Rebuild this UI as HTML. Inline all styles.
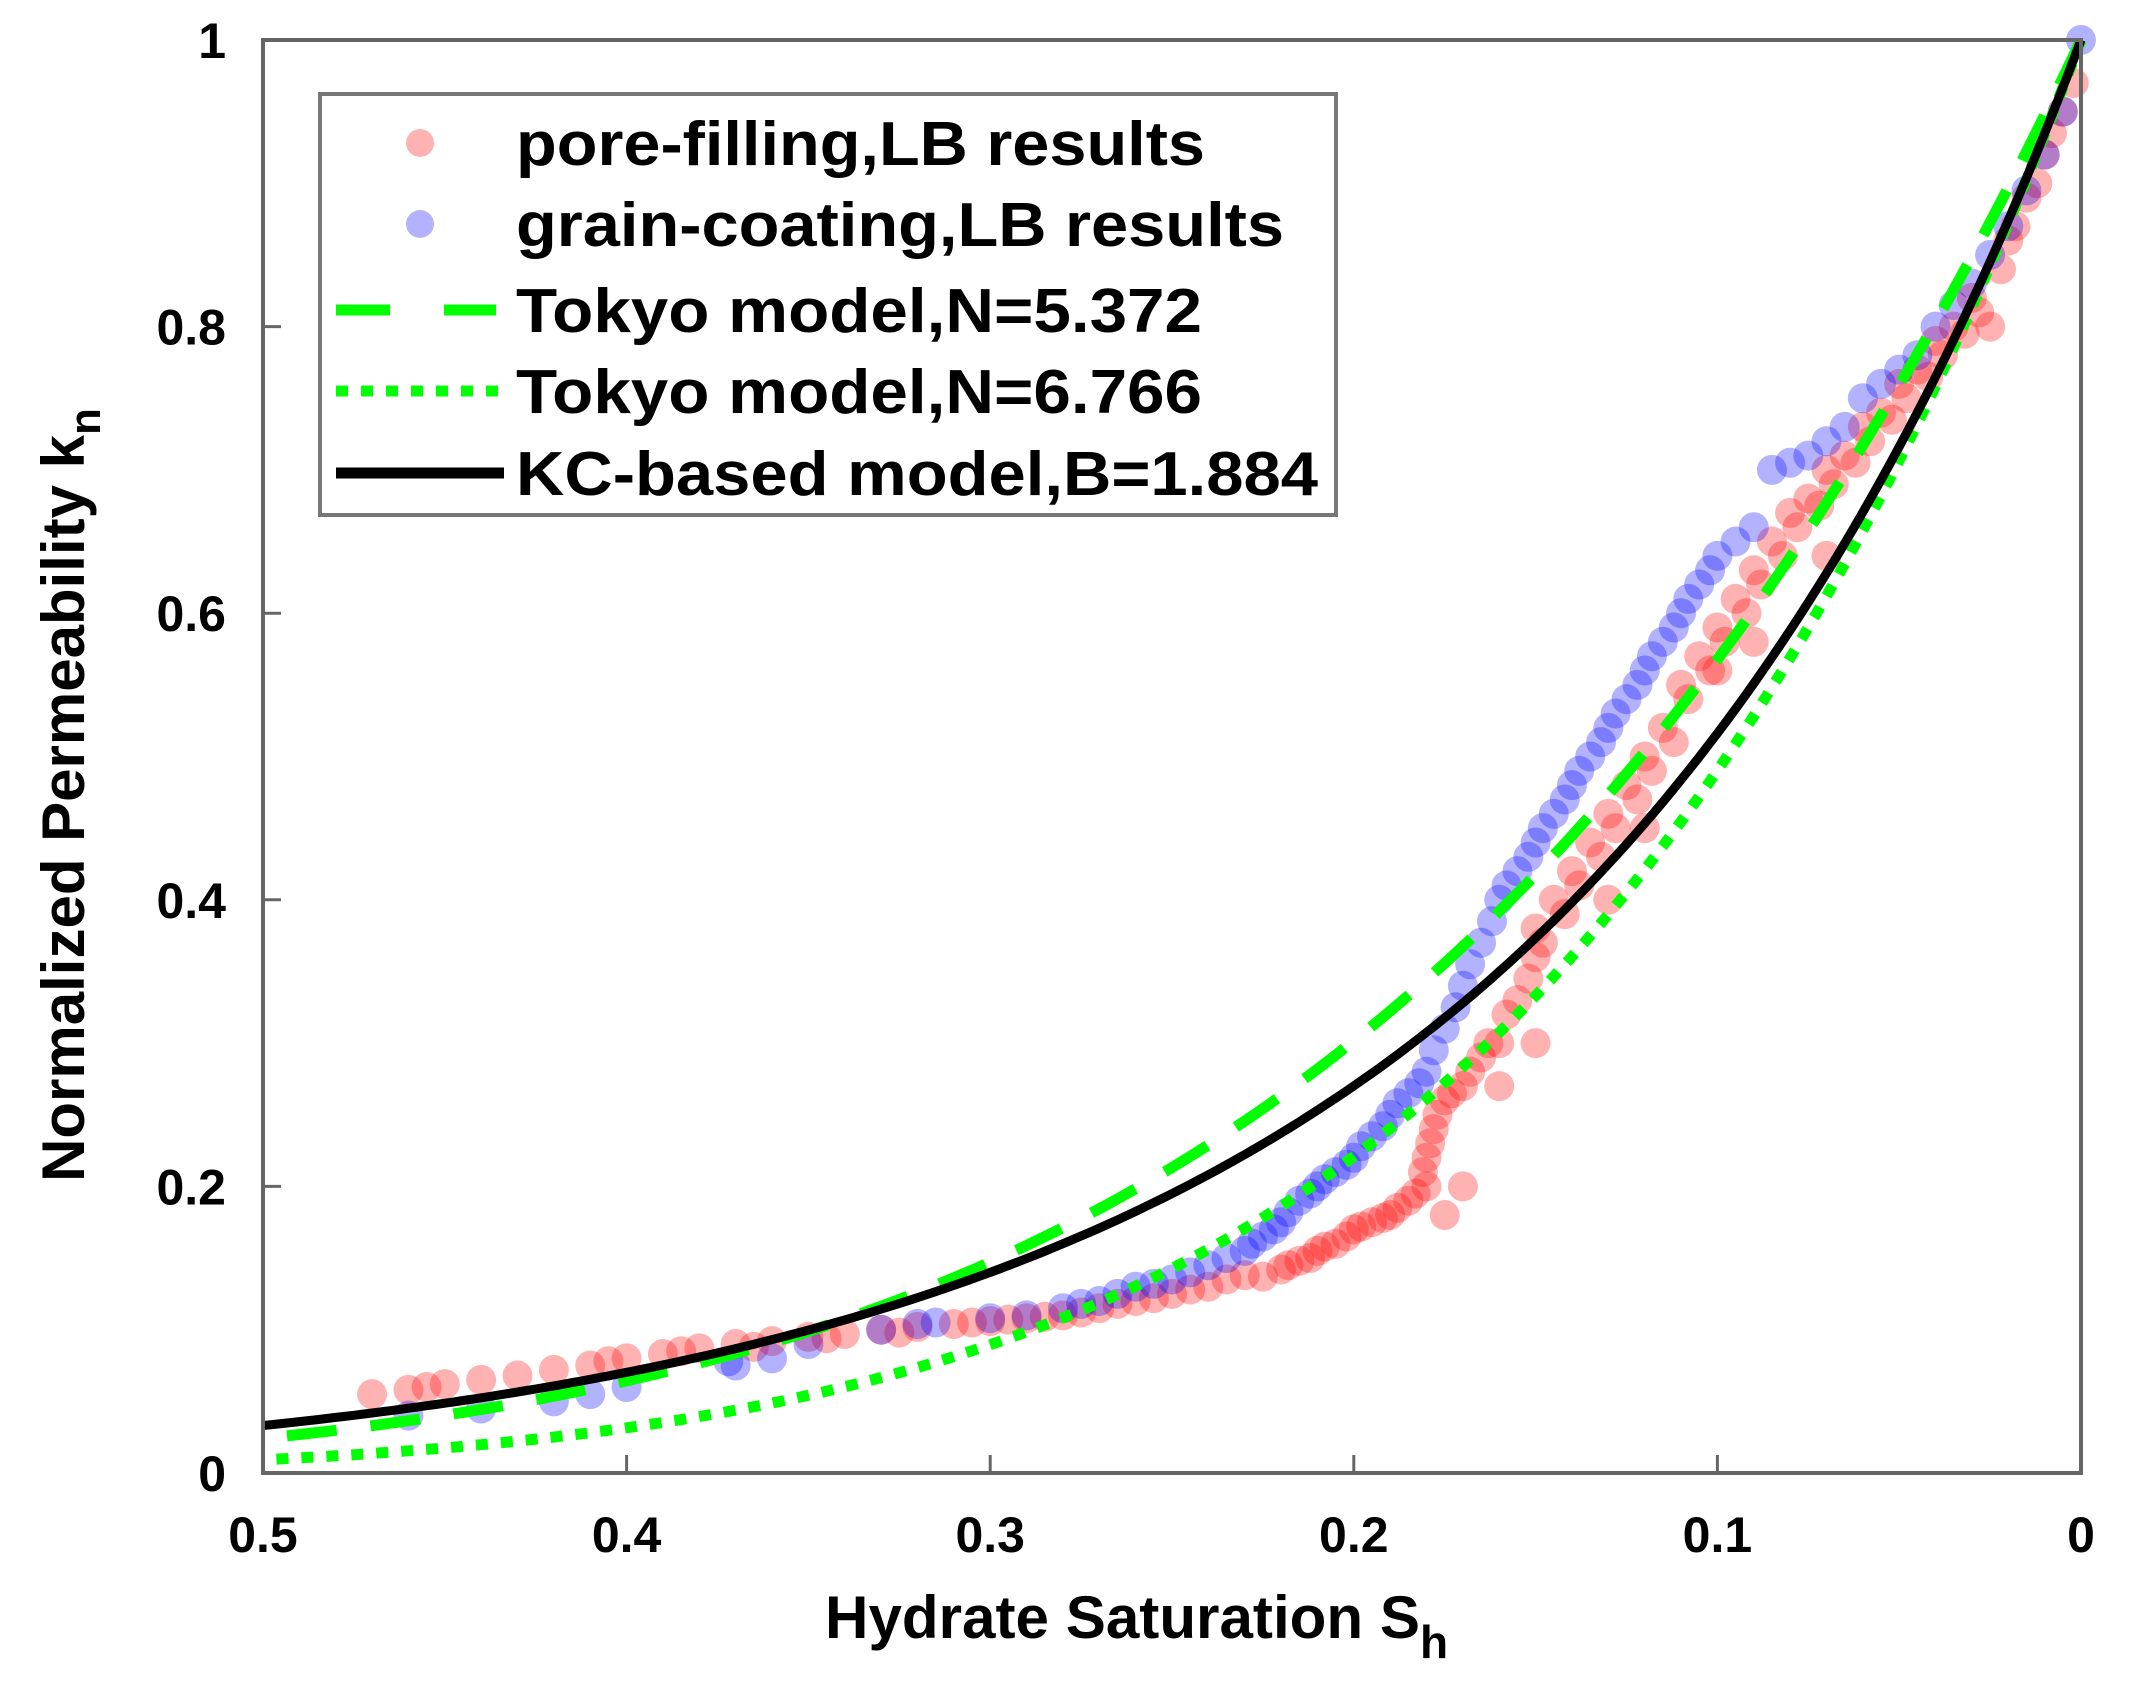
<!DOCTYPE html>
<html><head><meta charset="utf-8"><style>
html,body{margin:0;padding:0;background:#fff;}
svg{display:block;font-family:"Liberation Sans",Arial,sans-serif;}
</style></head><body>
<svg id="chart" width="2131" height="1691" viewBox="0 0 2131 1691" xmlns="http://www.w3.org/2000/svg">
<rect x="0" y="0" width="2131" height="1691" fill="#fff"/>
<g id="marks"></g>
<rect x="263" y="40" width="1818" height="1433" fill="none" stroke="#666" stroke-width="4"/>
<g id="ticks"></g>
<text x="0" y="0" transform="translate(84,795) rotate(-90)" text-anchor="middle" font-size="60" font-weight="bold">Normalized Permeability k<tspan font-size="44" dy="16">n</tspan></text>
<text x="825" y="1638" font-size="60" font-weight="bold"><tspan textLength="595" lengthAdjust="spacingAndGlyphs">Hydrate Saturation S</tspan><tspan font-size="46" dy="20">h</tspan></text>
<g>
<rect x="320" y="94" width="1016" height="421" fill="#fff" stroke="#777" stroke-width="4"/>
<circle cx="420" cy="143" r="14" fill="rgba(255,0,0,0.3)"/>
<text x="516" y="165" font-size="62" font-weight="bold" textLength="689" lengthAdjust="spacingAndGlyphs">pore-filling,LB results</text>
<circle cx="420" cy="224" r="14" fill="rgba(0,0,255,0.3)"/>
<text x="516" y="246" font-size="62" font-weight="bold" textLength="768" lengthAdjust="spacingAndGlyphs">grain-coating,LB results</text>
<line x1="336" y1="310" x2="496" y2="310" stroke="#00ff00" stroke-width="11" stroke-dasharray="54,54"/>
<text x="516" y="332" font-size="62" font-weight="bold" textLength="686" lengthAdjust="spacingAndGlyphs">Tokyo model,N=5.372</text>
<line x1="336" y1="391" x2="504" y2="391" stroke="#00ff00" stroke-width="11" stroke-dasharray="12,13"/>
<text x="516" y="413" font-size="62" font-weight="bold" textLength="686" lengthAdjust="spacingAndGlyphs">Tokyo model,N=6.766</text>
<line x1="336" y1="473" x2="504" y2="473" stroke="#000" stroke-width="11"/>
<text x="516" y="495" font-size="62" font-weight="bold" textLength="802" lengthAdjust="spacingAndGlyphs">KC-based model,B=1.884</text>
</g>
</svg>
<script>
const xTicks = [0.5, 0.4, 0.3, 0.2, 0.1, 0];
const xTickLabels = ["0.5", "0.4", "0.3", "0.2", "0.1", "0"];
const yTicks = [0, 0.2, 0.4, 0.6, 0.8, 1];
const yTickLabels = ["0", "0.2", "0.4", "0.6", "0.8", "1"];
const tokyoN = [5.372, 6.766];
const kcB = [1.884];
const poreS = [0.47,0.46,0.45,0.44,0.42,0.41,0.40,0.39,0.38,0.37,0.36,0.35,0.34,0.33,0.32,0.31,0.30,0.29,0.28,0.27,0.26,0.25,0.24,0.235,0.23,0.22,0.215,0.21,0.205,0.20,0.195,0.19,0.185,0.18,0.18,0.178,0.175,0.17,0.165,0.16,0.155,0.15,0.15,0.145,0.14,0.135,0.13,0.125,0.12,0.115,0.11,0.105,0.10,0.095,0.09,0.085,0.08,0.075,0.07,0.065,0.06,0.055,0.05,0.045,0.04,0.035,0.03,0.025,0.02,0.015,0.01,0.005,0.002,0.16,0.15,0.13,0.12,0.10,0.09,0.07,0.175,0.17,
0.225,0.218,0.212,0.208,0.202,0.198,0.192,0.188,0.183,0.181,0.179,0.177,0.173,0.168,0.163,0.158,0.152,0.148,0.142,0.138,0.132,0.128,0.122,0.118,0.112,0.108,0.102,0.098,0.092,0.088,0.082,0.078,0.072,0.068,0.062,0.058,0.052,0.048,0.042,0.038,0.032,0.028,0.022,0.018,0.012,0.008,0.265,0.255,0.245,0.275,0.285,0.295,0.305,0.325,0.345,0.365,0.385,0.405,0.43,0.455];
const poreK = [0.055,0.058,0.062,0.065,0.072,0.075,0.08,0.083,0.087,0.09,0.092,0.095,0.097,0.1,0.102,0.104,0.106,0.108,0.11,0.115,0.12,0.125,0.13,0.135,0.138,0.142,0.148,0.155,0.16,0.17,0.175,0.18,0.19,0.2,0.22,0.24,0.26,0.27,0.29,0.3,0.33,0.36,0.38,0.4,0.42,0.44,0.46,0.48,0.5,0.52,0.55,0.57,0.59,0.61,0.63,0.65,0.67,0.68,0.7,0.71,0.73,0.74,0.76,0.77,0.79,0.8,0.82,0.8,0.86,0.89,0.92,0.95,0.97,0.27,0.3,0.4,0.45,0.56,0.58,0.64,0.18,0.2,
0.137,0.145,0.15,0.158,0.165,0.172,0.178,0.185,0.195,0.21,0.23,0.25,0.265,0.28,0.3,0.32,0.345,0.37,0.39,0.41,0.43,0.45,0.47,0.49,0.51,0.54,0.56,0.58,0.6,0.62,0.64,0.66,0.675,0.69,0.705,0.72,0.735,0.75,0.765,0.78,0.795,0.81,0.84,0.87,0.9,0.935,0.118,0.122,0.128,0.112,0.109,0.107,0.105,0.098,0.094,0.088,0.085,0.078,0.068,0.06];
const grainS = [0.46,0.44,0.42,0.41,0.40,0.37,0.36,0.35,0.33,0.315,0.30,0.29,0.28,0.27,0.26,0.25,0.24,0.23,0.225,0.22,0.215,0.21,0.205,0.20,0.195,0.19,0.185,0.18,0.175,0.17,0.165,0.16,0.155,0.15,0.145,0.14,0.135,0.13,0.125,0.12,0.115,0.11,0.105,0.10,0.09,0.085,0.075,0.07,0.065,0.06,0.055,0.05,0.04,0.03,0.02,0.01,0.005,0,
0.228,0.222,0.218,0.212,0.208,0.202,0.198,0.192,0.188,0.182,0.178,0.172,0.168,0.162,0.158,0.152,0.148,0.142,0.138,0.132,0.128,0.122,0.118,0.112,0.108,0.102,0.095,0.08,0.045,0.035,0.025,0.015,0.265,0.255,0.245,0.235,0.275,0.32,0.372];
const grainK = [0.04,0.045,0.05,0.055,0.06,0.075,0.08,0.09,0.1,0.105,0.108,0.11,0.115,0.12,0.13,0.135,0.145,0.155,0.165,0.175,0.19,0.2,0.21,0.22,0.235,0.25,0.265,0.28,0.31,0.34,0.37,0.4,0.42,0.44,0.46,0.48,0.5,0.52,0.54,0.56,0.58,0.6,0.62,0.64,0.66,0.7,0.71,0.72,0.73,0.75,0.76,0.77,0.8,0.83,0.87,0.92,0.95,1.0,
0.16,0.17,0.182,0.195,0.205,0.215,0.228,0.242,0.258,0.272,0.295,0.325,0.355,0.385,0.41,0.43,0.45,0.47,0.49,0.51,0.53,0.55,0.57,0.59,0.61,0.63,0.65,0.705,0.78,0.815,0.85,0.895,0.125,0.132,0.14,0.15,0.118,0.104,0.078];

const NS='http://www.w3.org/2000/svg';
const X0=263, X1=2081, Y0=1473, Y1=40;
function xs(s){return X0+(0.5-s)/0.5*(X1-X0);}
function ys(k){return Y0-k*(Y0-Y1);}
const marks=document.getElementById('marks');
const ticks=document.getElementById('ticks');
function mk(tag,attrs,parent){const e=document.createElementNS(NS,tag);for(const k in attrs)e.setAttribute(k,attrs[k]);parent.appendChild(e);return e;}

xTicks.forEach((t,i)=>{
  const l=mk('line',{x1:xs(t),x2:xs(t),y1:Y0,y2:Y0-18,stroke:'#666','stroke-width':3},ticks);
  
  
  const tx=mk('text',{x:xs(t),y:1552,'text-anchor':'middle','font-size':50,'font-weight':'bold'},ticks);
  tx.textContent=xTickLabels[i];
  
  
});
yTicks.forEach((t,i)=>{
  const l=mk('line',{x1:X0,x2:X0+18,y1:ys(t),y2:ys(t),stroke:'#666','stroke-width':3},ticks);
  
  
  const tx=mk('text',{x:226,y:ys(t)+18,'text-anchor':'end','font-size':50,'font-weight':'bold'},ticks);
  tx.textContent=yTickLabels[i];
  
  
});

poreS.forEach((s,i)=>{
  const c=mk('circle',{cx:xs(s),cy:ys(poreK[i]),r:15,fill:'rgba(255,0,0,0.3)'},marks);
  
  
});
grainS.forEach((s,i)=>{
  const c=mk('circle',{cx:xs(s),cy:ys(grainK[i]),r:15,fill:'rgba(0,0,255,0.3)'},marks);
  
  
});

function curve(fn){let d='';for(let i=0;i<=200;i++){const s=0.5*i/200;d+=(i?'L':'M')+xs(s).toFixed(1)+','+ys(fn(s)).toFixed(1);}return d;}
const p1=mk('path',{d:curve(s=>Math.pow(1-s,tokyoN[0])),fill:'none',stroke:'#00ff00','stroke-width':11,'stroke-dasharray':'50,34'},marks);


const p2=mk('path',{d:curve(s=>Math.pow(1-s,tokyoN[1])),fill:'none',stroke:'#00ff00','stroke-width':11,'stroke-dasharray':'12,13'},marks);


const p3=mk('path',{d:curve(s=>Math.pow(1-s,3)/Math.pow(1+kcB[0]*s,2)),fill:'none',stroke:'#000','stroke-width':9},marks);


</script>
</body></html>
